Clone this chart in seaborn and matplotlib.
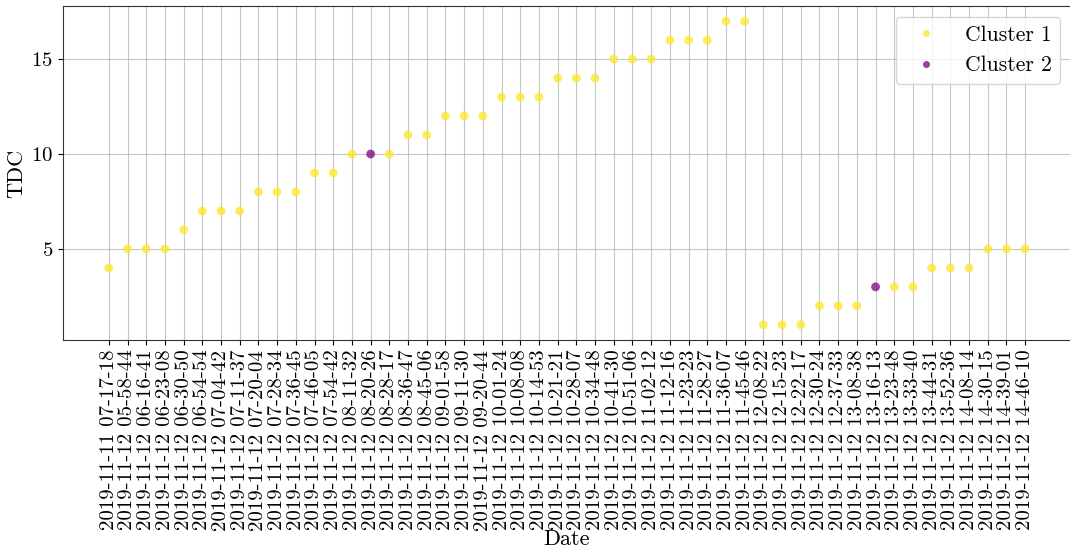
import matplotlib
matplotlib.use("Agg")
import matplotlib.pyplot as plt
import seaborn as sns
import pandas as pd

dates = [
    "2019-11-11 07-17-18", "2019-11-12 05-58-44", "2019-11-12 06-16-41", "2019-11-12 06-23-08",
    "2019-11-12 06-30-50", "2019-11-12 06-54-54", "2019-11-12 07-04-42", "2019-11-12 07-11-37",
    "2019-11-12 07-20-04", "2019-11-12 07-28-34", "2019-11-12 07-36-45", "2019-11-12 07-46-05",
    "2019-11-12 07-54-42", "2019-11-12 08-11-32", "2019-11-12 08-20-26", "2019-11-12 08-28-17",
    "2019-11-12 08-36-47", "2019-11-12 08-45-06", "2019-11-12 09-01-58", "2019-11-12 09-11-30",
    "2019-11-12 09-20-44", "2019-11-12 10-01-24", "2019-11-12 10-08-08", "2019-11-12 10-14-53",
    "2019-11-12 10-21-21", "2019-11-12 10-28-07", "2019-11-12 10-34-48", "2019-11-12 10-41-30",
    "2019-11-12 10-51-06", "2019-11-12 11-02-12", "2019-11-12 11-12-16", "2019-11-12 11-23-23",
    "2019-11-12 11-28-27", "2019-11-12 11-36-07", "2019-11-12 11-45-46", "2019-11-12 12-08-22",
    "2019-11-12 12-15-23", "2019-11-12 12-22-17", "2019-11-12 12-30-24", "2019-11-12 12-37-33",
    "2019-11-12 13-08-38", "2019-11-12 13-16-13", "2019-11-12 13-23-48", "2019-11-12 13-33-40",
    "2019-11-12 13-44-31", "2019-11-12 13-52-36", "2019-11-12 14-08-14", "2019-11-12 14-30-15",
    "2019-11-12 14-39-01", "2019-11-12 14-46-10",
]
tdc = [4, 5, 5, 5, 6, 7, 7, 7, 8, 8, 8, 9, 9, 10, 10, 10, 11, 11, 12, 12, 12,
       13, 13, 13, 14, 14, 14, 15, 15, 15, 16, 16, 16, 17, 17,
       1, 1, 1, 2, 2, 2, 3, 3, 3, 4, 4, 4, 5, 5, 5]
cluster_ids = [1] * 14 + [2] + [1] * 26 + [2] + [1] * 8
cluster_names = ["Cluster 1", "Cluster 2"]
cluster_colors = ["#fde725", "#800080"]

df = pd.DataFrame({
    "Date": dates,
    "TDC": tdc,
    "Cluster": [cluster_names[c - 1] for c in cluster_ids],
})

plt.rcParams["font.family"] = ["cmr10", "DejaVu Serif"]
plt.rcParams["mathtext.fontset"] = "cm"
plt.rcParams["axes.formatter.use_mathtext"] = True

fig = plt.figure(figsize=(10.7, 5.5), dpi=100)
ax = fig.add_axes([63 / 1070, 1 - 340 / 550, (1071 - 63) / 1070, (340 - 6) / 550])

sns.scatterplot(data=df, x="Date", y="TDC", hue="Cluster",
                hue_order=cluster_names, palette=cluster_colors,
                s=40, alpha=0.75, edgecolor="none", ax=ax)

ax.grid(True, color="#b0b0b0", linewidth=0.8, alpha=0.7)
ax.set_axisbelow(True)
ax.set_yticks([5, 10, 15])
ax.tick_params(axis="x", labelrotation=90, labelsize=15)
ax.tick_params(axis="y", labelsize=15)
ax.set_xlabel("Date", fontsize=16, labelpad=-1)
ax.set_ylabel("TDC", fontsize=16)
for sp in ax.spines.values():
    sp.set_color("#333333")
    sp.set_linewidth(0.8)

leg = ax.legend(loc="upper right", fontsize=15.5, title=None, markerscale=0.8)

fig.savefig("out.png", dpi=100)
